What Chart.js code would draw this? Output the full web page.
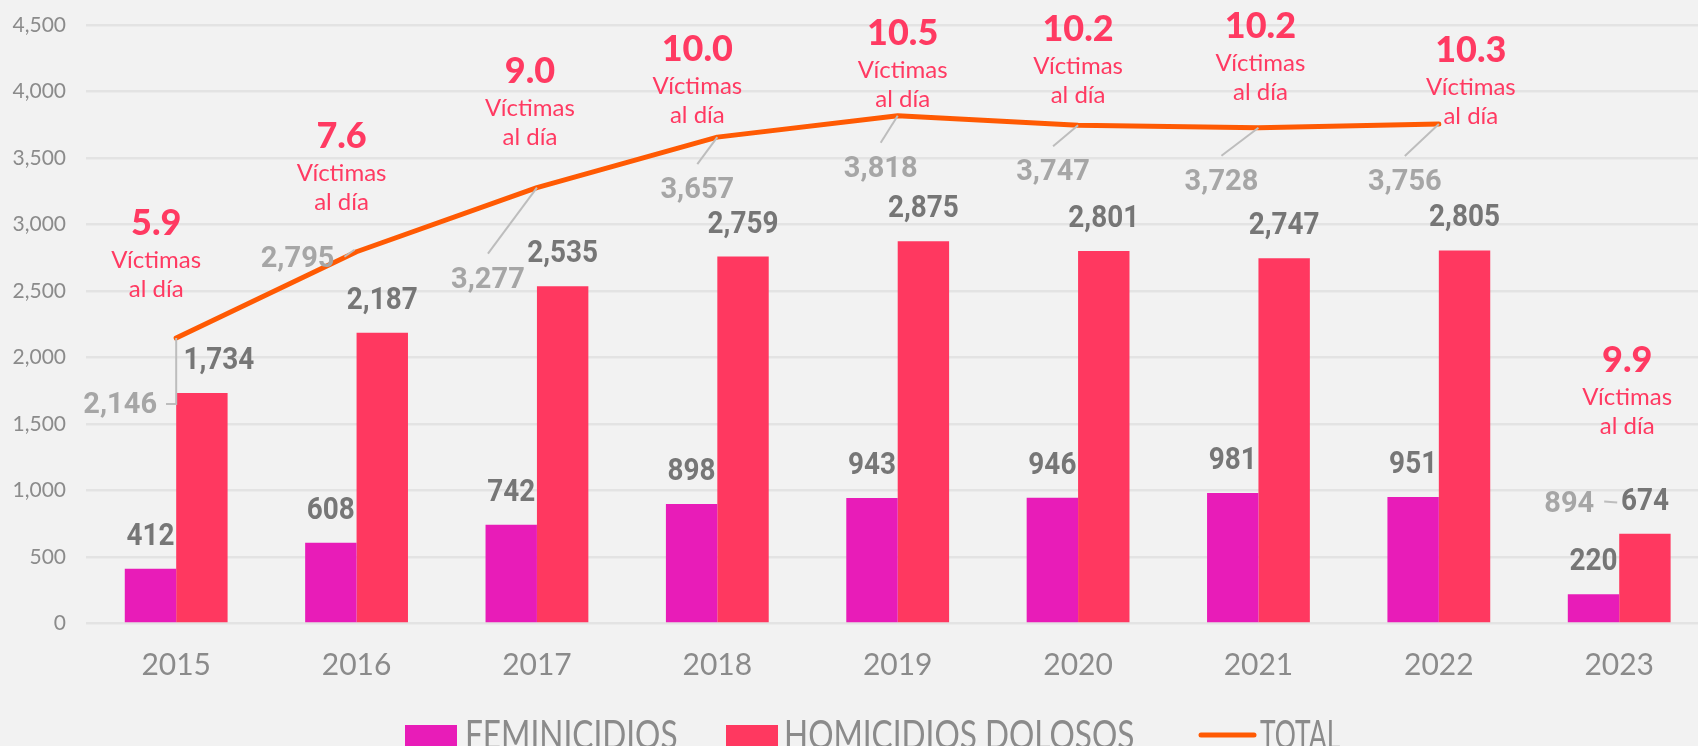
<!DOCTYPE html>
<html>
<head>
<meta charset="utf-8">
<script src="https://cdn.jsdelivr.net/npm/chart.js@4.4.1/dist/chart.umd.min.js"></script>
<style>
  html, body { margin: 0; padding: 0; background: #f2f2f2; overflow: hidden; }
  #wrap { width: 1712px; height: 746px; }
</style>
</head>
<body>
<div id="wrap"><canvas id="c" width="1712" height="746"></canvas></div>
<script>
// ---- data ----
const years = ['2015', '2016', '2017', '2018', '2019', '2020', '2021', '2022', '2023'];
const feminicidios = [412, 608, 742, 898, 943, 946, 981, 951, 220];
const homicidios = [1734, 2187, 2535, 2759, 2875, 2801, 2747, 2805, 674];
const total = [2146, 2795, 3277, 3657, 3818, 3747, 3728, 3756, 894];
const victimasDia = ['5.9', '7.6', '9.0', '10.0', '10.5', '10.2', '10.2', '10.3', '9.9'];
const rateLine1 = 'Víctimas';
const rateLine2 = 'al día';
const legendNames = ['FEMINICIDIOS', 'HOMICIDIOS DOLOSOS', 'TOTAL'];

// ---- styles / annotation layout (pixel offsets, not data) ----
const C_FEM = '#e81cb8';
const C_HOM = '#ff3860';
const C_TOT = '#ff5a03';
const C_RATE = '#ff3a62';
const C_BARLBL = '#767676';
const C_TOTLBL = '#a6a6a6';
const C_AXIS = '#8b8b8b';
const C_LEADER = '#bdbdbd';

// total label: [dx of text centre from point, dy of baseline from point, leader type]
const totalLblLayout = [[-56, 75, 'elbow'], [-59, 15, 'side'], [-49, 100, 'up'], [-20, 61, 'up'],
  [-17, 61, 'up'], [-25, 55, 'up'], [-37, 62, 'up'], [-34, 66, 'up'], [-50, 7, 'side']];
// rate annotation: [dx of centre from point, dy of number baseline from point]
const rateLayout = [[-20, -103], [-15, -104], [-7, -105], [-20, -76], [5, -71], [0, -84], [2, -90], [32, -62], [8, -133]];
const homLblDx = [17, 0, 0, 0, 0, 0, 0, 0, 0];

function drawText(ctx, txt, x, y, font, color, sx, align) {
  ctx.save();
  ctx.font = font;
  ctx.fillStyle = color;
  ctx.textAlign = align || 'center';
  ctx.textBaseline = 'alphabetic';
  ctx.translate(x, y);
  ctx.scale(sx || 1, 1);
  ctx.fillText(txt, 0, 0);
  ctx.restore();
}
function textW(ctx, txt, font, sx) {
  ctx.save(); ctx.font = font; const w = ctx.measureText(txt).width * (sx || 1); ctx.restore(); return w;
}
const fmt = v => Number(v).toLocaleString('en-US');

const labelPlugin = {
  id: 'labels',
  afterDatasetsDraw(chart) {
    const ctx = chart.ctx;
    const lineMeta = chart.getDatasetMeta(0);
    const femMeta = chart.getDatasetMeta(1);
    const homMeta = chart.getDatasetMeta(2);
    const barFont = 'bold 31px Roboto';
    const barSx = 0.9;
    // bar labels
    femMeta.data.forEach((el, i) => {
      drawText(ctx, fmt(feminicidios[i]), el.x, el.y - 24, barFont, C_BARLBL, barSx);
    });
    homMeta.data.forEach((el, i) => {
      drawText(ctx, fmt(homicidios[i]), el.x + homLblDx[i], el.y - 24, barFont, C_BARLBL, barSx);
    });
    // total labels + leaders
    const totFont = 'bold 29px Roboto';
    const totSx = 1.0;
    lineMeta.data.forEach((pt, i) => {
      const [dx, dy, type] = totalLblLayout[i];
      const cx = pt.x + dx, by = pt.y + dy;
      const txt = fmt(total[i]);
      const w = textW(ctx, txt, totFont, totSx);
      ctx.save();
      ctx.strokeStyle = C_LEADER;
      ctx.lineWidth = 2;
      ctx.beginPath();
      if (type === 'up') {
        ctx.moveTo(cx, by - 21 - 13);
        ctx.lineTo(pt.x, pt.y);
      } else if (type === 'elbow') {
        ctx.moveTo(pt.x, pt.y);
        ctx.lineTo(pt.x, by - 9);
        ctx.lineTo(cx + w / 2 + 9, by - 9);
      } else {
        ctx.moveTo(cx + w / 2 + 10, by - 10);
        ctx.lineTo(pt.x - 2, pt.y - 2);
      }
      ctx.stroke();
      ctx.restore();
      drawText(ctx, txt, cx, by, totFont, C_TOTLBL, totSx);
      // rate annotations
      const [rdx, rdy] = rateLayout[i];
      const rx = pt.x + rdx, ry = pt.y + rdy;
      drawText(ctx, victimasDia[i], rx, ry, '900 36px Lato', C_RATE, 1);
      drawText(ctx, rateLine1, rx, ry + 33, '24px Lato', C_RATE, 1);
      drawText(ctx, rateLine2, rx, ry + 62, '24px Lato', C_RATE, 1);
    });
    // legend
    const lf = '40px Lato';
    ctx.save();
    ctx.fillStyle = C_FEM; ctx.fillRect(405, 725, 52, 40);
    ctx.fillStyle = C_HOM; ctx.fillRect(726, 725, 52, 40);
    ctx.strokeStyle = C_TOT; ctx.lineWidth = 5; ctx.lineCap = 'round';
    ctx.beginPath(); ctx.moveTo(1201, 735); ctx.lineTo(1254, 735); ctx.stroke();
    ctx.restore();
    drawText(ctx, legendNames[0], 465, 749, lf, C_AXIS, 0.79, 'left');
    drawText(ctx, legendNames[1], 784, 749, lf, C_AXIS, 0.79, 'left');
    drawText(ctx, legendNames[2], 1260, 749, lf, C_AXIS, 0.66, 'left');
  }
};

new Chart(document.getElementById('c'), {
  data: {
    labels: years,
    datasets: [
      {
        type: 'line', label: legendNames[2], data: total, order: 0,
        borderColor: C_TOT, borderWidth: 5, pointRadius: 0, pointHoverRadius: 0, tension: 0,
        borderCapStyle: 'round', borderJoinStyle: 'round',
        segment: { borderColor: c => (c.p1DataIndex === years.length - 1 ? 'rgba(0,0,0,0)' : C_TOT) }
      },
      { type: 'bar', label: legendNames[0], data: feminicidios, backgroundColor: C_FEM, order: 1,
        categoryPercentage: 0.57, barPercentage: 1.0 },
      { type: 'bar', label: legendNames[1], data: homicidios, backgroundColor: C_HOM, order: 1,
        categoryPercentage: 0.57, barPercentage: 1.0 }
    ]
  },
  options: {
    responsive: false,
    animation: false,
    devicePixelRatio: 1,
    layout: { padding: { top: 25, right: 2.6, bottom: 0, left: 0 } },
    plugins: { legend: { display: false }, tooltip: { enabled: false } },
    scales: {
      x: {
        grid: { display: false, drawTicks: false },
        border: { display: false },
        ticks: { font: { family: 'Lato', size: 30 }, color: C_AXIS, padding: 24 },
        afterFit: s => { s.height = 122.5; s.paddingLeft = 0; s.paddingRight = 0; }
      },
      y: {
        min: 0, max: 4500,
        grid: { color: '#e3e3e3', lineWidth: 2.5, drawTicks: false },
        border: { display: false },
        ticks: { stepSize: 500, font: { family: 'Lato', size: 21 }, color: C_AXIS, padding: 20,
          callback: v => fmt(v) },
        afterFit: s => { s.width = 86; s.paddingTop = 0; s.paddingBottom = 0; }
      }
    }
  },
  plugins: [labelPlugin]
});
</script>
</body>
</html>
